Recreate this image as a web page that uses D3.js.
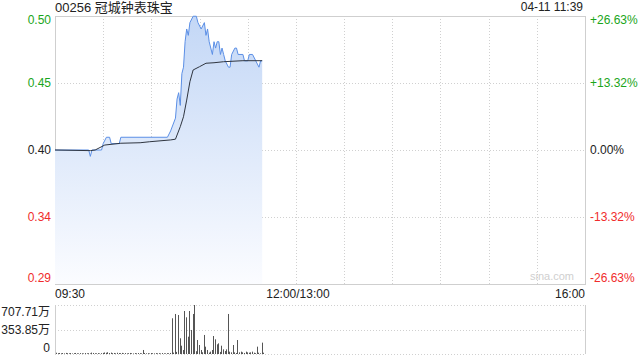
<!DOCTYPE html>
<html>
<head>
<meta charset="utf-8">
<style>
  body { margin: 0; background: #fff; }
  svg { font-family: "Liberation Sans", Arial, "Noto Sans CJK SC", sans-serif; }
  .grid { stroke: #d0d0d0; stroke-dasharray: 1,2; fill: none; }
  .frame { stroke: #cfcfcf; fill: none; }
</style>
</head>
<body>
<script src="https://d3js.org/d3.v7.min.js"></script>
<script>
var stockName = "00256 冠城钟表珠宝";
var stamp = "04-11 11:39";
var prevClose = 0.395;
var pctTicks = [26.63, 13.32, 0, -13.32, -26.63];
var priceLabels = ["0.50", "0.45", "0.40", "0.34", "0.29"];
var pctLabels = ["+26.63%", "+13.32%", "0.00%", "-13.32%", "-26.63%"];
var timeLabels = ["09:30", "12:00/13:00", "16:00"];

// minute price line
var priceTimes = ["09:30","09:51","09:52","09:53","09:59","10:00","10:02","10:04","10:05","10:10","10:11","10:40",
  "10:42","10:45","10:46","10:47","10:48","10:49","10:50","10:51","10:52","10:53","10:54","10:56","10:58",
  "10:59","11:01","11:03","11:04","11:05","11:06","11:08","11:09","11:10","11:11","11:12","11:13","11:14",
  "11:15","11:16","11:18","11:19","11:20","11:22","11:23","11:24","11:27","11:28","11:30","11:31","11:33",
  "11:35","11:37","11:38","11:39"];
var prices = [0.395,0.395,0.390,0.395,0.395,0.400,0.405,0.405,0.400,0.400,0.405,0.405,
  0.410,0.420,0.435,0.440,0.430,0.455,0.460,0.480,0.490,0.485,0.495,0.500,0.500,
  0.495,0.490,0.495,0.485,0.490,0.480,0.470,0.480,0.475,0.480,0.480,0.470,0.475,
  0.470,0.465,0.460,0.460,0.470,0.475,0.475,0.470,0.470,0.465,0.465,0.470,0.470,
  0.465,0.460,0.465,0.465];

// average price line
var avgTimes = ["09:30","09:52","09:55","10:01","10:11","10:23","10:29","10:42","10:45","10:48","10:50",
  "10:52","10:54","10:56","11:00","11:04","11:09","11:15","11:27","11:39"];
var avgPrices = [0.395,0.3945,0.395,0.3989,0.4003,0.4007,0.4015,0.4029,0.4035,0.4133,0.4211,
  0.4342,0.4486,0.4578,0.4604,0.4631,0.4635,0.4643,0.4651,0.4651];

// volume per minute from 09:30 (万)
var volStart = "09:30";
var volumes = [18,12,15,10,14,9,16,12,10,14, 8,12,15,10,9,13,11,8,14,10,
  12,9,20,15,11,10,13,8,12,16, 22,18,25,14,20,12,15,10,18,14,
  12,16,10,14,9,12,15,11,8,13, 10,14,12,9,58,15,10,12,8,14,
  11,9,13,10,12,8,14,10,9,12, 11,15,
  516,20,578,30,563,227,120,58,621,530, 250,621,347,578,707.71,40,202,130,58,25,
  275,106,58,20,34,58,260,212,140,154, 30,120,67,43,67,578,34,24,130,24,
  15,202,24,34,24,15,34,24,19,24, 34,19,12,106,19,10,164,19];
var volTicks = [707.71, 353.85, 0];
var volLabels = ["707.71万", "353.85万", "0"];

var green = "#1aa51a", red = "#f02c2c";

var W = 640, H = 360;
var pL = 55, pR = 585, pT = 16, pB = 284;
var vTop = 305, vBottom = 354;

function toMin(s) {
  var p = s.split(":"), t = +p[0] * 60 + +p[1];
  return t <= 720 ? t - 570 : t - 630 + 150;
}

var x = d3.scaleLinear().domain([0, 330]).range([pL, pR]);
var y = d3.scaleLinear()
  .domain([prevClose * (1 - 0.2663), prevClose * (1 + 0.2663)])
  .range([pB, pT]);
var yv = d3.scaleLinear().domain([0, d3.max(volTicks)]).range([vBottom, vTop]);

var svg = d3.select("body").append("svg").attr("width", W).attr("height", H);

var defs = svg.append("defs");
var grad = defs.append("linearGradient").attr("id", "fill")
  .attr("gradientUnits", "userSpaceOnUse")
  .attr("x1", 0).attr("x2", 0).attr("y1", pT).attr("y2", pB);
grad.append("stop").attr("offset", 0).attr("stop-color", "#c3d7f6");
grad.append("stop").attr("offset", 1).attr("stop-color", "#fbfcff");

// grid
var vGrid = d3.range(30, 330, 30);
svg.selectAll(".vg").data(vGrid).enter().append("line")
  .attr("class", "grid")
  .attr("x1", function(d) { return Math.round(x(d)) + 0.5; })
  .attr("x2", function(d) { return Math.round(x(d)) + 0.5; })
  .attr("y1", pT).attr("y2", pB);
svg.selectAll(".hg").data(pctTicks.slice(1, 4)).enter().append("line")
  .attr("class", "grid")
  .attr("x1", pL).attr("x2", pR)
  .attr("y1", function(d) { return Math.round(y(prevClose * (1 + d / 100))) + 0.5; })
  .attr("y2", function(d) { return Math.round(y(prevClose * (1 + d / 100))) + 0.5; });

svg.append("rect").attr("class", "frame")
  .attr("x", pL + 0.5).attr("y", pT + 0.5)
  .attr("width", pR - pL).attr("height", pB - pT);

// area + lines
var pData = priceTimes.map(function(t, i) { return { m: toMin(t), p: prices[i] }; });
var aData = avgTimes.map(function(t, i) { return { m: toMin(t), p: avgPrices[i] }; });

svg.append("path").datum(pData)
  .attr("fill", "url(#fill)")
  .attr("d", d3.area().x(function(d) { return x(d.m); }).y0(pB).y1(function(d) { return y(d.p); }));

svg.append("path").datum(pData)
  .attr("fill", "none").attr("stroke", "#5b8fe6").attr("stroke-width", 1)
  .attr("d", d3.line().x(function(d) { return x(d.m); }).y(function(d) { return y(d.p); }));

svg.append("path").datum(aData)
  .attr("fill", "none").attr("stroke", "#2f3540").attr("stroke-width", 1)
  .attr("d", d3.line().x(function(d) { return x(d.m); }).y(function(d) { return y(d.p); }));

// y labels
function labelY(i) {
  var yy = y(prevClose * (1 + pctTicks[i] / 100));
  return i === 0 ? yy + 8 : (i === 4 ? yy - 2 : yy + 4);
}
function labelColor(i) {
  return pctTicks[i] > 0 ? green : (pctTicks[i] < 0 ? red : "#222");
}

svg.selectAll(".yl").data(priceLabels).enter().append("text")
  .attr("x", pL - 4)
  .attr("y", function(d, i) { return labelY(i); })
  .attr("text-anchor", "end").style("font-size", "12px")
  .attr("fill", function(d, i) { return labelColor(i); })
  .text(function(d) { return d; });

svg.selectAll(".pl").data(pctLabels).enter().append("text")
  .attr("x", pR + 5)
  .attr("y", function(d, i) { return labelY(i); })
  .style("font-size", "12px")
  .attr("fill", function(d, i) { return labelColor(i); })
  .text(function(d) { return d; });

// time labels
var tPos = [0, 150, 330], tAnchor = ["start", "middle", "end"];
svg.selectAll(".tl").data(timeLabels).enter().append("text")
  .attr("x", function(d, i) { return x(tPos[i]) + (i === 1 ? 2 : 0); })
  .attr("y", 298)
  .attr("text-anchor", function(d, i) { return tAnchor[i]; })
  .style("font-size", "12px").attr("fill", "#222")
  .text(function(d) { return d; });

// header
svg.append("text").attr("x", pL).attr("y", 12).style("font-size", "13px").attr("fill", "#222").text(stockName);
svg.append("text").attr("x", pR - 2).attr("y", 11).attr("text-anchor", "end")
  .style("font-size", "12px").attr("fill", "#222").text(stamp);

svg.append("text").attr("x", 574).attr("y", 280).attr("text-anchor", "end")
  .style("font-size", "11px").attr("fill", "#cfcfcf").text("sina.com");

// volume panel
svg.selectAll(".vgl").data(volTicks).enter().append("line")
  .attr("class", "grid")
  .attr("x1", pL).attr("x2", pR)
  .attr("y1", function(d) { return Math.round(yv(d)) + 0.5; })
  .attr("y2", function(d) { return Math.round(yv(d)) + 0.5; });
svg.append("line").attr("class", "frame").attr("x1", pL + 0.5).attr("x2", pL + 0.5).attr("y1", vTop).attr("y2", vBottom);
svg.append("line").attr("class", "frame").attr("x1", pR + 0.5).attr("x2", pR + 0.5).attr("y1", vTop).attr("y2", vBottom);

var v0 = toMin(volStart);
svg.selectAll(".vb").data(volumes).enter().append("rect")
  .attr("x", function(d, i) { return Math.round(x(v0 + i)) + 1; })
  .attr("y", function(d) { return yv(d); })
  .attr("width", 1)
  .attr("height", function(d) { return vBottom - yv(d); })
  .attr("fill", "#555");

svg.selectAll(".vl").data(volLabels).enter().append("text")
  .attr("x", pL - 5)
  .attr("y", function(d, i) {
    var yy = yv(volTicks[i]);
    return i === 0 ? yy + 11 : (i === 2 ? yy - 2 : yy + 4);
  })
  .attr("text-anchor", "end").style("font-size", "12px").attr("fill", "#222")
  .text(function(d) { return d; });
</script>
</body>
</html>
